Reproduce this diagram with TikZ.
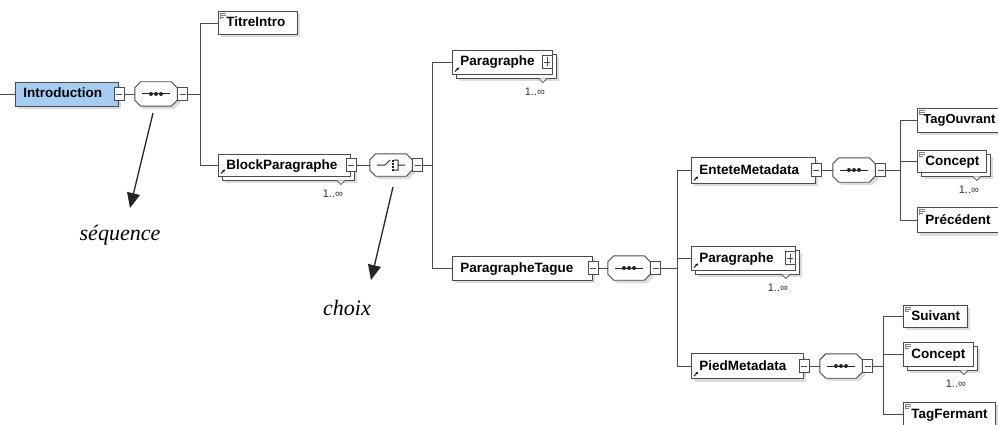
\documentclass[tikz,border=0pt]{standalone}
\usepackage{fontspec}
\setmainfont{Liberation Serif}
\setsansfont{Liberation Sans}
\usetikzlibrary{shadows,arrows.meta,calc}
\definecolor{introblue}{RGB}{166,204,242}
\definecolor{shad}{RGB}{185,185,200}
\definecolor{edge}{RGB}{75,75,75}
\tikzset{
  elembase/.style={draw=edge, fill=white, line width=0.9pt, anchor=west,
    font=\sffamily\bfseries\fontsize{13.5}{15}\selectfont, inner xsep=8pt, inner ysep=0pt,
    text height=10pt, text depth=2pt, align=left, minimum height=24pt},
  elem/.style={elembase, drop shadow={shadow xshift=3pt, shadow yshift=-3pt, fill=shad}},
  elemmulti/.style={elembase, drop shadow={shadow xshift=7pt, shadow yshift=-7pt, fill=shad},
    copy shadow={shadow xshift=4pt, shadow yshift=-4pt, fill=white, draw=edge, line width=0.9pt}},
  sqm/.style={draw=edge, fill=white, line width=0.8pt, minimum width=10pt, minimum height=13pt, inner sep=0pt,
    path picture={\draw[edge, line width=0.8pt] ([xshift=2pt]path picture bounding box.west) -- ([xshift=-2pt]path picture bounding box.east);}},
  sqp/.style={draw=edge, fill=white, line width=0.8pt, minimum width=10pt, minimum height=13pt, inner sep=0pt,
    path picture={\draw[edge, line width=0.8pt] ([xshift=2pt]path picture bounding box.west) -- ([xshift=-2pt]path picture bounding box.east)
      ([yshift=2pt]path picture bounding box.south) -- ([yshift=-2pt]path picture bounding box.north);}},
  oct/.style={minimum width=42pt, minimum height=24pt, inner sep=0pt},
  octline/.style={draw=edge, fill=white, line width=0.9pt, drop shadow={shadow xshift=3pt, shadow yshift=-3pt, fill=shad}},
  symb/.style={draw=black!85, line width=1pt},
  conn/.style={draw=edge, line width=0.9pt},
  annot/.style={draw=black!85, line width=1.3pt, -{Triangle[length=15pt,width=13pt]}},
  lab/.style={font=\itshape\fontsize{22}{26}\selectfont, inner sep=0pt},
  mult/.style={font=\sffamily\fontsize{11}{13}\selectfont, inner sep=0pt, text=black!80},
  notch/.style={draw=edge, fill=white, line width=0.7pt},
  leaficon/.style={draw=black!50, line width=0.6pt},
  reficon/.style={draw=black, line width=0.9pt, -{Stealth[length=2.8pt,width=2.8pt]}}
}
\newcommand\octo[1]{\path[octline] ([shift={(6,0)}]#1.north west) -- ([shift={(-6,0)}]#1.north east) -- ([shift={(0,6)}]#1.north east) -- ([shift={(0,-6)}]#1.south east) -- ([shift={(-6,0)}]#1.south east) -- ([shift={(6,0)}]#1.south west) -- ([shift={(0,-6)}]#1.south west) -- ([shift={(0,6)}]#1.north west) -- cycle;}
\newcommand\seqsym[1]{\draw[symb] ([shift={(-14,0)}]#1.center) -- ([shift={(14,0)}]#1.center);
  \foreach \d in {-5,0,5} \fill[black!85] ([shift={(\d,0)}]#1.center) circle[radius=2pt];}
\newcommand\choicesym[1]{\draw[symb] ([shift={(-14,0)}]#1.center) -- ([shift={(-6,0)}]#1.center) -- ([shift={(-1,-5)}]#1.center)
  ([shift={(3,-5)}]#1.center) -- ([shift={(7,-5)}]#1.center) -- ([shift={(7,5)}]#1.center) -- ([shift={(3,5)}]#1.center)
  ([shift={(7,0)}]#1.center) -- ([shift={(14,0)}]#1.center);
  \foreach \d in {-5,-2,1,4} \fill[black!85] ([shift={(1.2,\d)}]#1.center) rectangle ++(2.2,2);}
\newcommand\multimark[1]{\draw[notch] ([shift={(-14,4)}]#1.south east) -- ++(4,4) -- ++(4,-4);
  \node[mult] (#1m) at ([shift={(-18,17)}]#1.south east) {1..∞};}
\newcommand\leafmark[1]{\draw[leaficon] ([shift={(2,2.5)}]#1.north west) -- ++(6,0) ([shift={(2,4.5)}]#1.north west) -- ++(6,0) ([shift={(2,6.5)}]#1.north west) -- ++(4,0) ([shift={(2,2.5)}]#1.north west) -- ++(0,5);}
\newcommand\refmark[1]{\draw[reficon] ([shift={(3,-3)}]#1.south west) -- ++(4,-4);}
\begin{document}
\begin{tikzpicture}[x=1pt,y=-1pt]
\useasboundingbox (0,0) rectangle (998,425);
\clip (0,0) rectangle (998,425);
\fill[white] (0,0) rectangle (998,425);

% element boxes
\node[elem, fill=introblue, text width=87pt] (intro) at (15,94) {Introduction};
\node[elem, text width=63pt, minimum height=23pt] (titre) at (218,23) {TitreIntro};
\node[elemmulti, text width=116pt, minimum height=22pt] (block) at (218,165) {BlockParagraphe};
\node[elemmulti, text width=84pt] (para1) at (452,62) {Paragraphe};
\node[elem, text width=124pt] (ptague) at (452,268) {ParagrapheTague};
\node[elem, text width=108pt, minimum height=26pt] (entete) at (691,170) {EnteteMetadata};
\node[elemmulti, text width=88pt] (para2) at (691,258) {Paragraphe};
\node[elem, text width=96pt, minimum height=25pt] (pied) at (691,366) {PiedMetadata};
\node[elem, text width=81pt, inner xsep=6pt, font=\sffamily\bfseries\fontsize{13}{15}\selectfont] (tagouv) at (917,120) {TagOuvrant};
\node[elemmulti, text width=53pt, minimum height=22pt] (concept1) at (917,161) {Concept};
\node[elem, text width=72pt, minimum height=25pt] (prec) at (917,220) {Précédent};
\node[elem, text width=48pt, minimum height=22pt] (suivant) at (903,316) {Suivant};
\node[elemmulti, text width=54pt] (concept2) at (903,354) {Concept};
\node[elem, text width=76pt] (tagferm) at (903,414) {TagFermant};

% multiplicity marks
\multimark{block}
\multimark{para1}
\multimark{para2}
\multimark{concept1}
\multimark{concept2}

% icons
\leafmark{titre}\leafmark{tagouv}\leafmark{concept1}\leafmark{prec}
\leafmark{suivant}\leafmark{concept2}\leafmark{tagferm}
\refmark{block}\refmark{para1}\refmark{entete}\refmark{para2}\refmark{pied}

% collapse / expand buttons on elements
\node[sqm] (isq) at (intro.east) {};
\node[sqm] (bsq) at (block.east) {};
\node[sqp] (p1sq) at ([shift={(-6,0)}]para1.east) {};
\node[sqm] (ptsq) at (ptague.east) {};
\node[sqm] (esq) at (entete.east) {};
\node[sqp] (p2sq) at ([shift={(-6,0)}]para2.east) {};
\node[sqm] (psq) at (pied.east) {};

% compositors
\node[oct] (s1) at (156,94) {}; \octo{s1} \seqsym{s1}
\node[sqm] (s1q) at ([shift={(5.5,0)}]s1.east) {};
\node[oct, minimum height=22pt] (c1) at (391,165) {}; \octo{c1} \choicesym{c1}
\node[sqm] (c1q) at ([shift={(5.5,0)}]c1.east) {};
\node[oct] (s2) at (629,268) {}; \octo{s2} \seqsym{s2}
\node[sqm] (s2q) at ([shift={(5.5,0)}]s2.east) {};
\node[oct] (s3) at (854,170) {}; \octo{s3} \seqsym{s3}
\node[sqm] (s3q) at ([shift={(5.5,0)}]s3.east) {};
\node[oct] (s4) at (841,366) {}; \octo{s4} \seqsym{s4}
\node[sqm] (s4q) at ([shift={(5.5,0)}]s4.east) {};

% junctions
\coordinate (L0) at (0,94);
\coordinate (j1) at (200,94);
\coordinate (j2) at (432,165);
\coordinate (j3) at (677,268);
\coordinate (j4) at (900,170);
\coordinate (j5) at (883,366);

% connectors
\draw[conn] (L0) -- (intro.west);
\draw[conn] (isq) -- (s1);
\draw[conn] (s1q) -- (j1);
\draw[conn] (titre.west) -| (j1);
\draw[conn] (block.west) -| (j1);
\draw[conn] (bsq) -- (c1);
\draw[conn] (c1q) -- (j2);
\draw[conn] (para1.west) -| (j2);
\draw[conn] (ptague.west) -| (j2);
\draw[conn] (ptsq) -- (s2);
\draw[conn] (s2q) -- (j3);
\draw[conn] (entete.west) -| (j3);
\draw[conn] (para2.west) -| (j3);
\draw[conn] (pied.west) -| (j3);
\draw[conn] (esq) -- (s3);
\draw[conn] (s3q) -- (j4);
\draw[conn] (tagouv.west) -| (j4);
\draw[conn] (concept1.west) -| (j4);
\draw[conn] (prec.west) -| (j4);
\draw[conn] (psq) -- (s4);
\draw[conn] (s4q) -- (j5);
\draw[conn] (suivant.west) -| (j5);
\draw[conn] (concept2.west) -| (j5);
\draw[conn] (tagferm.west) -| (j5);

% annotations
\node[lab] (seqlab) at (120,235) {séquence};
\node[lab] (choixlab) at (347,308) {choix};
\coordinate (a1s) at (153,113);
\coordinate (a1e) at (130,208);
\coordinate (a2s) at (393,187);
\coordinate (a2e) at (371,280);
\draw[annot] (a1s) -- (a1e);
\draw[annot] (a2s) -- (a2e);
\end{tikzpicture}
\end{document}
